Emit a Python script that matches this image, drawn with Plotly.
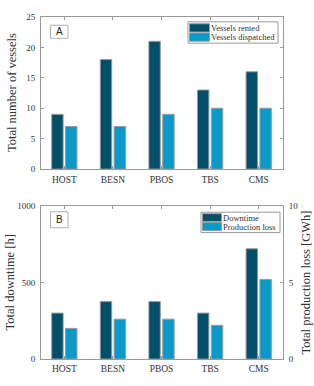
import plotly.graph_objects as go

categories = ["HOST", "BESN", "PBOS", "TBS", "CMS"]
vessels_rented = [9, 18, 21, 13, 16]
vessels_dispatched = [7, 7, 9, 10, 10]
downtime_h = [300, 375, 375, 300, 720]
production_loss_gwh = [2.0, 2.6, 2.6, 2.2, 5.2]

DARK = "#024F69"
LIGHT = "#0A99CB"
EDGE = "#9a9a9a"
AX = "#9a9a9a"
TXT = "#333333"
SERIF = "Liberation Serif"
SANS = "Liberation Sans"

W, H = 314, 386
ML, MR, MT, MB = 41, 31, 14, 19
ph = H - MT - MB
pw = W - ML - MR
top_dom = [(367 - 171) / ph, 1.0]
bot_dom = [0.0, (367 - 209) / ph]

xpos = list(range(len(categories)))
bw = 0.235

fig = go.Figure()

def bar(y, color, offset, xa, ya):
    return go.Bar(x=xpos, y=y, width=bw, offset=offset, marker=dict(color=color, line=dict(color=EDGE, width=1)),
                  xaxis=xa, yaxis=ya, showlegend=False)

fig.add_trace(bar(vessels_rented, DARK, -0.26, "x", "y"))
fig.add_trace(bar(vessels_dispatched, LIGHT, 0.025, "x", "y"))
fig.add_trace(bar(downtime_h, DARK, -0.26, "x2", "y2"))
fig.add_trace(bar(production_loss_gwh, LIGHT, 0.025, "x2", "y3"))

xcommon = dict(range=[-0.48, 4.5], tickmode="array", tickvals=xpos, ticktext=categories,
               ticks="inside", ticklen=3, tickcolor=AX, showline=True, linecolor=AX, linewidth=1,
               mirror="ticks", showgrid=False, zeroline=False, ticklabelstandoff=1,
               tickfont=dict(family=SERIF, size=9.5, color=TXT))
ycommon = dict(ticks="inside", ticklen=3, tickcolor=AX, showline=True, linecolor=AX, linewidth=1,
               showgrid=False, zeroline=False, ticklabelstandoff=3,
               tickfont=dict(family=SERIF, size=9, color=TXT))

fig.update_layout(
    width=W, height=H, margin=dict(l=ML, r=MR, t=MT, b=MB),
    paper_bgcolor="white", plot_bgcolor="white",
    xaxis=dict(domain=[0, 1], anchor="y", **xcommon),
    yaxis=dict(domain=top_dom, anchor="x", range=[0, 25], dtick=5, mirror="ticks", **ycommon),
    xaxis2=dict(domain=[0, 1], anchor="y2", **xcommon),
    yaxis2=dict(domain=bot_dom, anchor="x2", range=[0, 1000], tickvals=[0, 500, 1000], **ycommon),
    yaxis3=dict(overlaying="y2", anchor="x2", side="right", range=[0, 10], tickvals=[0, 5, 10], **ycommon),
    barmode="overlay",
)

shapes = []
annotations = []

def ppx(px):
    return (px - ML) / pw

def ppy(py):
    return (H - MB - py) / ph

# axis titles placed as paper annotations
for text, cx, cy in [("Total number of vessels", 12, (14 + 171) / 2),
                     ("Total downtime [h]", 10, (209 + 367) / 2),
                     ("Total production loss [GWh]", 306, (209 + 367) / 2)]:
    annotations.append(dict(xref="paper", yref="paper", x=ppx(cx), y=ppy(cy), text=text, textangle=-90,
                            showarrow=False, xanchor="center", yanchor="middle",
                            font=dict(family=SERIF, size=12.5, color=TXT)))

def px2dom(px, py, x0, x1, y0, y1):
    return (px - x0) / (x1 - x0), (y1 - py) / (y1 - y0)

def legend(xd, yd, ytop, box, rows, ybot):
    bx0, by0, bx1, by1 = box
    a, b = px2dom(bx0, by0, 41, 283, ytop, ybot)
    c, d = px2dom(bx1, by1, 41, 283, ytop, ybot)
    shapes.append(dict(type="rect", xref=xd + " domain", yref=yd + " domain", x0=a, x1=c, y0=d, y1=b,
                       line=dict(color=AX, width=1), fillcolor="white"))
    for (sx0, sy0, sx1, sy1, col, label) in rows:
        a, b = px2dom(sx0, sy0, 41, 283, ytop, ybot)
        c, d = px2dom(sx1, sy1, 41, 283, ytop, ybot)
        shapes.append(dict(type="rect", xref=xd + " domain", yref=yd + " domain", x0=a, x1=c, y0=d, y1=b,
                           line=dict(color=EDGE, width=1), fillcolor=col))
        tx, ty = px2dom(sx1 - 1, (sy0 + sy1) / 2, 41, 283, ytop, ybot)
        annotations.append(dict(xref=xd + " domain", yref=yd + " domain", x=tx, y=ty, text=label,
                                showarrow=False, xanchor="left", yanchor="middle",
                                font=dict(family=SERIF, size=8.5, color=TXT)))

legend("x", "y", 14, (188, 19, 278, 41),
       [(189.5, 21, 209.5, 29.5, DARK, "Vessels rented"), (189.5, 30.5, 209.5, 39, LIGHT, "Vessels dispatched")], 171)
legend("x2", "y2", 209, (201, 215.5, 280, 236.5),
       [(202.5, 217, 221.5, 225, DARK, "Downtime"), (202.5, 226, 221.5, 234.5, LIGHT, "Production loss")], 367)

def tag(xd, yd, ytop, ybot, box, label):
    bx0, by0, bx1, by1 = box
    a, b = px2dom(bx0, by0, 41, 283, ytop, ybot)
    c, d = px2dom(bx1, by1, 41, 283, ytop, ybot)
    shapes.append(dict(type="rect", xref=xd + " domain", yref=yd + " domain", x0=a, x1=c, y0=d, y1=b,
                       line=dict(color="#b0b0b0", width=1), fillcolor="white"))
    annotations.append(dict(xref=xd + " domain", yref=yd + " domain", x=(a + c) / 2, y=(b + d) / 2, text=label,
                            showarrow=False, xanchor="center", yanchor="middle",
                            font=dict(family=SANS, size=10, color="#222")))

tag("x", "y", 14, 171, (50.5, 22.5, 68, 36), "A")
tag("x2", "y2", 209, 367, (50.5, 215, 68, 231.5), "B")

fig.update_layout(shapes=shapes, annotations=annotations)
fig.write_html("out.html", config={"displayModeBar": False},
               post_script="document.body.style.margin='0px';document.body.style.overflow='hidden';")
